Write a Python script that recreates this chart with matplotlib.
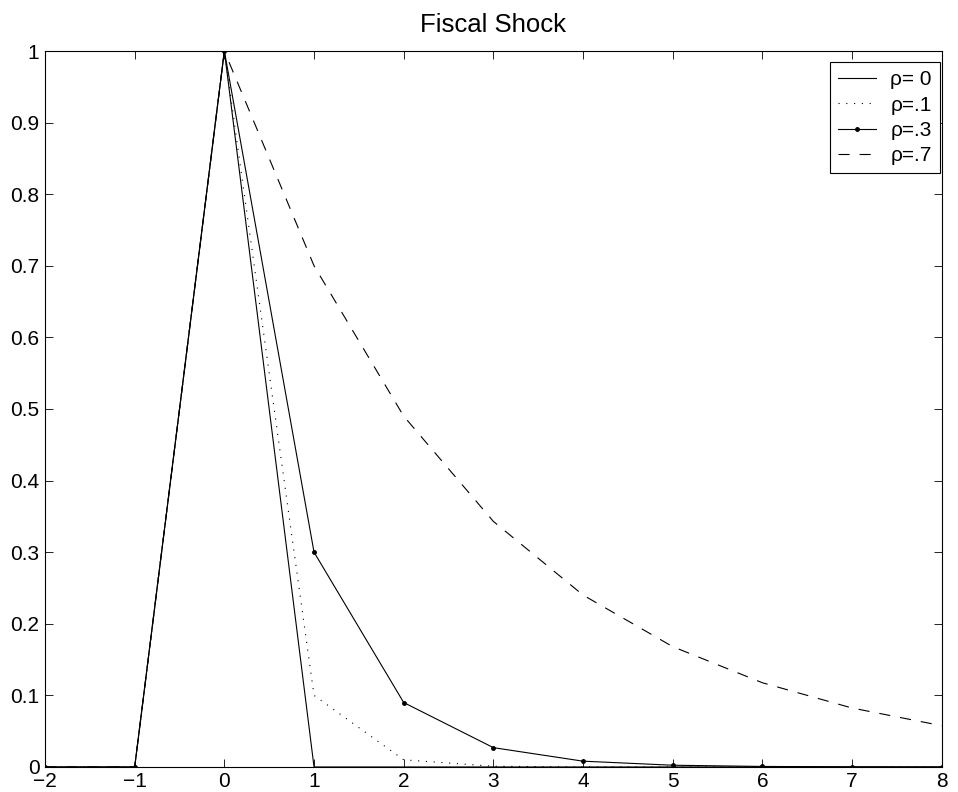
import numpy as np
import matplotlib.pyplot as plt

plt.rcParams['font.family'] = ['Liberation Sans', 'DejaVu Sans']
plt.rcParams['font.size'] = 15

# impulse responses of the fiscal shock, periods -2..8
periods = [-2, -1, 0, 1, 2, 3, 4, 5, 6, 7, 8]
rho_0 = [0, 0, 1, 0, 0, 0, 0, 0, 0, 0, 0]
rho_1 = [0, 0, 1, 0.1, 0.01, 0.001, 0.0001, 0.00001, 0.000001, 0.0000001, 0.00000001]
rho_3 = [0, 0, 1, 0.3, 0.09, 0.027, 0.0081, 0.00243, 0.000729, 0.0002187, 0.0000656]
rho_7 = [0, 0, 1, 0.7, 0.49, 0.343, 0.2401, 0.16807, 0.117649, 0.0823543, 0.057648]

fig = plt.figure(figsize=(9.58, 7.92), dpi=100)
ax = fig.add_axes([0.047, 0.0316, 0.936, 0.904])

ax.plot(periods, rho_0, color='k', lw=0.8, label='ρ= 0')
ax.plot(periods, rho_1, color='k', lw=0.8, ls=(0, (1, 6)), label='ρ=.1')
ax.plot(periods, rho_3, color='k', lw=0.8, marker='.', ms=5, label='ρ=.3')
ax.plot(periods, rho_7, color='k', lw=0.8, ls=(0, (10, 9)), label='ρ=.7')

ax.set_xlim(-2, 8)
ax.set_ylim(0, 1)
ax.set_xticks(range(-2, 9))
ax.set_yticks(np.arange(0, 1.01, 0.1))
ax.set_yticklabels(['0', '0.1', '0.2', '0.3', '0.4', '0.5', '0.6', '0.7', '0.8', '0.9', '1'])
ax.set_xticklabels(['\u22122', '\u22121', '0', '1', '2', '3', '4', '5', '6', '7', '8'])
ax.tick_params(direction='in', top=True, right=True, length=6, width=0.6)
ax.tick_params(axis='x', pad=3.5)
ax.tick_params(axis='y', pad=4)
for s in ax.spines.values():
    s.set_linewidth(0.8)

ax.set_title('Fiscal Shock', fontsize=18.5, pad=14)
leg = ax.legend(loc='upper right', bbox_to_anchor=(940 / 958, 1 - 62 / 792),
                bbox_transform=fig.transFigure, borderaxespad=0,
                fancybox=False, edgecolor='k', framealpha=1,
                handlelength=1.8, handletextpad=0.7, labelspacing=0.3,
                borderpad=0.4)
leg.get_frame().set_linewidth(0.8)

plt.savefig('out.png', dpi=100)
